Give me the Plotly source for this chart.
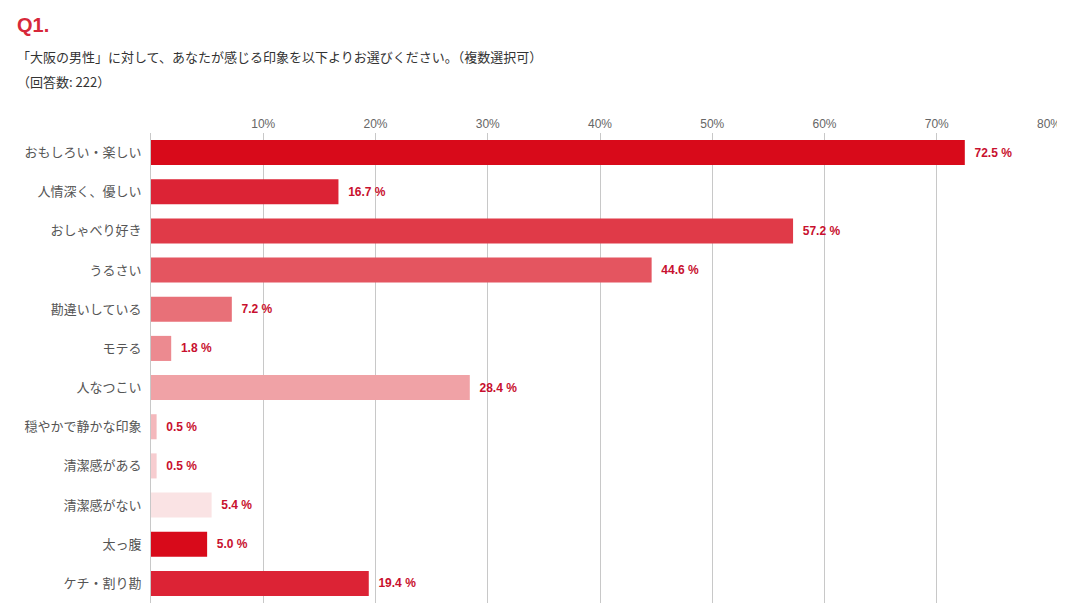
import plotly.graph_objects as go

categories = ["おもしろい・楽しい", "人情深く、優しい", "おしゃべり好き", "うるさい", "勘違いしている",
              "モテる", "人なつこい", "穏やかで静かな印象", "清潔感がある", "清潔感がない", "太っ腹", "ケチ・割り勘"]
values = [72.5, 16.7, 57.2, 44.6, 7.2, 1.8, 28.4, 0.5, 0.5, 5.4, 5.0, 19.4]
colors = ["#D80A1A", "#DC2335", "#E03A48", "#E45560", "#E87078", "#EC8A90",
          "#F0A2A6", "#F4B8BC", "#F7CDD0", "#FAE3E4", "#D80A1A", "#DC2335"]
tick_vals = [10, 20, 30, 40, 50, 60, 70, 80]
tick_text = [f"{v}%" for v in tick_vals]

fig = go.Figure(go.Bar(
    x=values, y=categories, orientation="h", width=0.64,
    marker=dict(color=colors, line=dict(width=0)),
    text=[f"  {v:.1f} %" for v in values], textposition="outside",
    textfont=dict(family="Arial, Liberation Sans, sans-serif", size=12, color="#C8102E"),
    texttemplate="<b>%{text}</b>", cliponaxis=False,
))
fig.update_layout(
    width=1065, height=610, plot_bgcolor="white", paper_bgcolor="white",
    margin=dict(l=143, r=18, t=125, b=15), showlegend=False,
    font=dict(family="Noto Sans CJK JP, sans-serif"),
    xaxis=dict(range=[0, 80], side="top", tickvals=tick_vals, ticktext=tick_text,
               showgrid=True, gridcolor="#C8C8C8", gridwidth=1, zeroline=False,
               tickfont=dict(family="Arial, Liberation Sans, sans-serif", size=12, color="#666666"),
               ticklabelstandoff=2, fixedrange=True),
    yaxis=dict(autorange="reversed", showline=True, linecolor="#C8C8C8", ticks="",
               tickfont=dict(size=13, color="#555555"), ticklabelstandoff=6, fixedrange=True),
    annotations=[
        dict(text="<b>Q1.</b>", x=7, y=8, xref="paper", yref="paper", xanchor="left", yanchor="top",
             showarrow=False, font=dict(size=20, color="#D7283A", family="Arial, Liberation Sans, sans-serif")),
    ],
)
fig.add_annotation(text="「大阪の男性」に対して、あなたが感じる印象を以下よりお選びください。（複数選択可）",
                   xref="paper", yref="paper", x=0, y=1, showarrow=False, xanchor="left", yanchor="top",
                   font=dict(size=13, color="#333333"))
fig.layout.annotations = ()
anns = [
    dict(text="<b>Q1.</b>", x=6, y=4, size=20, color="#D7283A", fam="Arial, Liberation Sans, sans-serif"),
    dict(text="「大阪の男性」に対して、あなたが感じる印象を以下よりお選びください。（複数選択可）", x=6, y=37, size=13, color="#333333", fam="Noto Sans CJK JP"),
    dict(text="（回答数: 222）", x=6, y=62, size=13, color="#333333", fam="Noto Sans CJK JP"),
]
for a in anns:
    fig.add_annotation(text=a["text"], xref="paper", yref="paper",
                       x=(a["x"] - 143) / (1065 - 143 - 18), y=1 + (125 - a["y"]) / (610 - 125 - 15),
                       xanchor="left", yanchor="top", showarrow=False,
                       font=dict(size=a["size"], color=a["color"], family=a["fam"]))
fig.write_html("out.html")
